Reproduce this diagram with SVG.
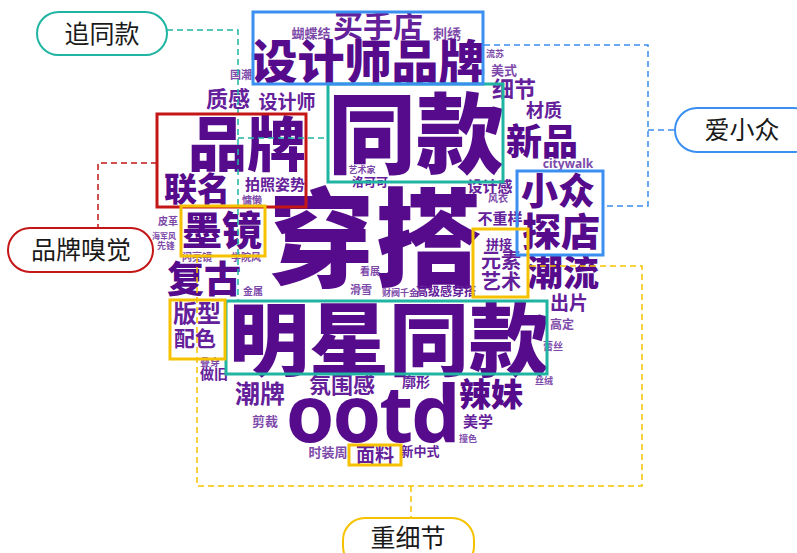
<svg xmlns="http://www.w3.org/2000/svg" width="797" height="553" viewBox="0 0 797 553">
<style>
text{font-family:"Noto Sans CJK SC","Noto Sans",sans-serif;text-anchor:middle}
.w{font-weight:700}
.b{fill:#560a8c;font-weight:900}
.m{fill:#64209a}
.s{fill:#7d4aaa}
.lat{font-family:"Noto Sans","Noto Sans CJK SC",sans-serif}
.box{fill:none;stroke-width:3}
.dash{fill:none;stroke-width:1.5;stroke-dasharray:6 4}
.teal{stroke:#1fb5a2}
.blue{stroke:#3a8ff0}
.red{stroke:#c41616}
.yel{stroke:#f6c200}
.pill{fill:#fff;stroke-width:2}
.lbl{font-size:25px;fill:#1a1a1a}
</style>
<rect width="797" height="553" fill="#fff"/>
<g id="cloud" class="w">
<text class="s" x="311" y="38" font-size="13">蝴蝶结</text>
<text class="m" x="378" y="37" font-size="30">买手店</text>
<text class="s" x="447" y="39" font-size="14">刺绣</text>
<text class="b" x="368" y="79" font-size="47">设计师品牌</text>
<text class="s" x="241" y="79" font-size="11">国潮</text>
<text class="s" x="495" y="57" font-size="9">流苏</text>
<text class="s" x="504" y="75" font-size="13">美式</text>
<text class="m" x="514" y="97" font-size="22">细节</text>
<text class="m" x="544" y="117" font-size="18">材质</text>
<text class="b" x="542" y="155" font-size="36">新品</text>
<text class="s lat" x="568" y="168" font-size="12">citywalk</text>
<text class="m" x="228" y="107" font-size="22">质感</text>
<text class="m" x="287" y="109" font-size="19">设计师</text>
<text class="b" x="416" y="166" font-size="88">同款</text>
<text class="b" x="247" y="166" font-size="59">品牌</text>
<text class="b" x="197" y="201" font-size="33">联名</text>
<text class="m" x="275" y="190" font-size="15">拍照姿势</text>
<text class="s" x="252" y="204" font-size="10">慵懒</text>
<text class="b" x="375" y="278" font-size="107">穿搭</text>
<text class="b" x="222" y="245" font-size="40">墨镜</text>
<text class="s" x="168" y="225" font-size="10">皮革</text>
<text class="s" x="164" y="239" font-size="8">海军风</text>
<text class="s" x="166" y="249" font-size="9">先锋</text>
<text class="s" x="197" y="261" font-size="10">闪亮镜</text>
<text class="s" x="246" y="261" font-size="10">学院风</text>
<text class="b" x="204" y="293" font-size="37">复古</text>
<text class="s" x="253" y="295" font-size="10">金属</text>
<text class="m" x="197" y="322" font-size="24">版型</text>
<text class="m" x="195" y="346" font-size="21">配色</text>
<text class="s" x="210" y="366" font-size="10">叠穿</text>
<text class="m" x="214" y="379" font-size="14">做旧</text>
<text class="b" x="389" y="369" font-size="80">明星同款</text>
<text class="m" x="260" y="403" font-size="25">潮牌</text>
<text class="m" x="342" y="393" font-size="22">氛围感</text>
<text class="s" x="265" y="426" font-size="13">剪裁</text>
<text class="lat" x="372" y="442" font-size="78" letter-spacing="-2" fill="#560a8c" font-weight="700">ootd</text>
<text class="s" x="328" y="457" font-size="13">时装周</text>
<text class="m" x="375" y="462" font-size="19">面料</text>
<text class="m" x="416" y="387" font-size="14">廓形</text>
<text class="b" x="491" y="406" font-size="32">辣妹</text>
<text class="m" x="478" y="427" font-size="15">美学</text>
<text class="s" x="468" y="442" font-size="9">撞色</text>
<text class="m" x="420" y="456" font-size="13">新中式</text>
<text class="s" x="544" y="384" font-size="9">丝绒</text>
<text class="s" x="553" y="350" font-size="10">蕾丝</text>
<text class="s" x="562" y="329" font-size="12">高定</text>
<text class="m" x="569" y="310" font-size="19">出片</text>
<text class="b" x="563" y="286" font-size="36">潮流</text>
<text class="b" x="558" y="205" font-size="37">小众</text>
<text class="b" x="561" y="246" font-size="39">探店</text>
<text class="m" x="490" y="192" font-size="15">设计感</text>
<text class="s" x="498" y="202" font-size="10">风衣</text>
<text class="m" x="500" y="224" font-size="15">不重样</text>
<text class="m" x="499" y="249" font-size="13">拼接</text>
<text class="m" x="501" y="268" font-size="20">元素</text>
<text class="m" x="501" y="289" font-size="20">艺术</text>
<text class="s" x="362" y="173" font-size="9">艺术家</text>
<text class="m" x="370" y="187" font-size="12">洛可可</text>
<text class="s" x="370" y="275" font-size="10">看展</text>
<text class="s" x="361" y="294" font-size="11">滑雪</text>
<text class="s" x="400" y="296" font-size="9">财阀千金</text>
<text class="m" x="446" y="296" font-size="12">高级感穿搭</text>
</g>
<g id="connectors">
<path class="dash teal" d="M167 30H238V300M238 138H328"/>
<path class="dash blue" d="M484 45H648V206H604M648 130H675"/>
<path class="dash red" d="M157 163H98V228"/>
<path class="dash yel" d="M197 257V486H642V266H528M411 486V518"/>
</g>
<g id="highlights">
<rect class="box teal" x="328" y="84" width="175" height="98"/>
<rect class="box teal" x="226" y="301" width="321" height="73"/>
<rect class="box blue" x="253" y="12" width="230" height="72"/>
<rect class="box blue" x="517" y="171" width="86" height="84"/>
<rect class="box red" x="157" y="114" width="149" height="93"/>
<rect class="box yel" x="181" y="206" width="84" height="50"/>
<rect class="box yel" x="170" y="300" width="55" height="59"/>
<rect class="box yel" x="473" y="229" width="55" height="68"/>
<rect class="box yel" x="349" y="445" width="52" height="20"/>
</g>
<g id="node-zhuitongkuan">
<rect class="pill teal" x="37" y="12" width="130" height="43" rx="21.5"/>
<text class="lbl" x="102" y="43">追同款</text>
</g>
<g id="node-aixiaozhong">
<rect class="pill blue" x="675" y="108" width="140" height="44" rx="22"/>
<text class="lbl" x="742" y="139">爱小众</text>
</g>
<g id="node-pinpaixiujue">
<rect class="pill red" x="8" y="228" width="145" height="44" rx="22"/>
<text class="lbl" x="81" y="259">品牌嗅觉</text>
</g>
<g id="node-zhongxijie">
<rect class="pill yel" x="343" y="518" width="131" height="50" rx="22"/>
<text class="lbl" x="408" y="547">重细节</text>
</g>
</svg>
